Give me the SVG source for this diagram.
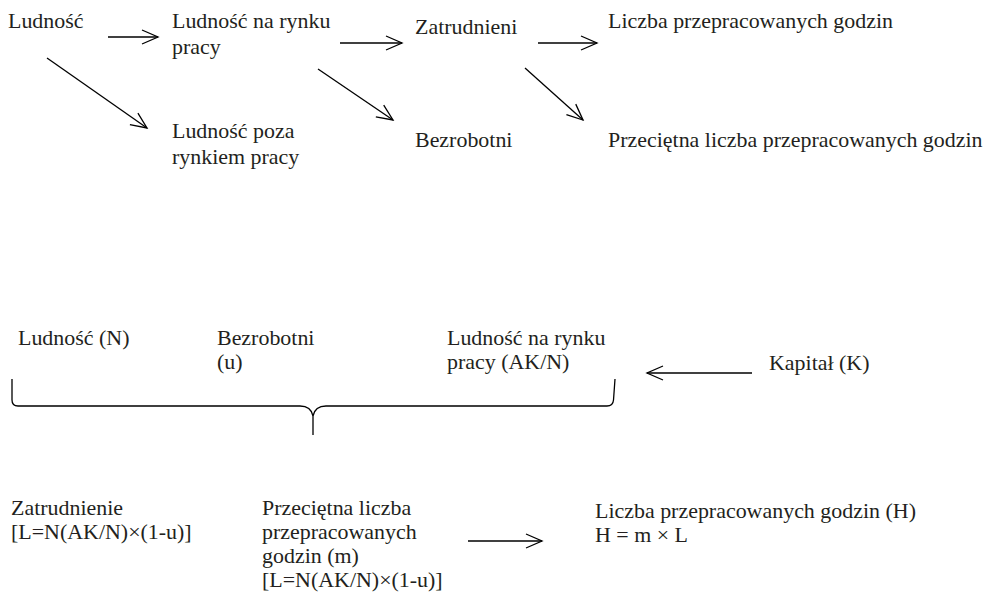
<svg xmlns="http://www.w3.org/2000/svg" width="990" height="598" viewBox="0 0 990 598">
<style>
text{font-family:"Liberation Serif","Times New Roman",serif;font-size:21px;fill:#231f20}
.c{stroke:#000;stroke-width:1.3;fill:none}
</style>
<defs>
<marker id="ah" markerUnits="userSpaceOnUse" markerWidth="20" markerHeight="18" refX="16" refY="8" orient="auto" overflow="visible">
<path d="M0,1 L16,8 L0,15" fill="none" stroke="#000" stroke-width="1.3"/>
</marker>
</defs>
<rect width="990" height="598" fill="#fff"/>
<g id="connectors">
<line class="c" x1="108" y1="37" x2="158" y2="37" marker-end="url(#ah)"/>
<line class="c" x1="47" y1="58" x2="147" y2="128" marker-end="url(#ah)"/>
<line class="c" x1="340" y1="43" x2="402" y2="43" marker-end="url(#ah)"/>
<line class="c" x1="318" y1="69" x2="393" y2="120" marker-end="url(#ah)"/>
<line class="c" x1="538" y1="43" x2="597" y2="43" marker-end="url(#ah)"/>
<line class="c" x1="525" y1="68" x2="583" y2="120" marker-end="url(#ah)"/>
<line class="c" x1="752" y1="373" x2="647" y2="373" marker-end="url(#ah)"/>
<line class="c" x1="468" y1="541" x2="542" y2="541" marker-end="url(#ah)"/>
<path id="brace" class="c" d="M12,379 L12,400 Q12,406 18,406 L300,406 Q311,406 313,416 L313,435 M313,416 Q315,406 326,406 L607,406 Q613,406 613.5,400 L615,379"/>
</g>
<g id="ludnosc" transform="translate(8 0) scale(1.045 1)"><text y="28">Ludność</text></g>
<g id="ludnosc-rynek" transform="translate(172 0) scale(1.045 1)"><text y="28">Ludność na rynku</text><text y="54">pracy</text></g>
<g id="ludnosc-poza" transform="translate(172 0) scale(1.045 1)"><text y="138">Ludność poza</text><text y="164">rynkiem pracy</text></g>
<g id="zatrudnieni" transform="translate(415 0) scale(1.045 1)"><text y="34">Zatrudnieni</text></g>
<g id="bezrobotni" transform="translate(415 0) scale(1.045 1)"><text y="147">Bezrobotni</text></g>
<g id="liczba-godzin" transform="translate(608 0) scale(1.045 1)"><text y="28">Liczba przepracowanych godzin</text></g>
<g id="przecietna" transform="translate(608 0) scale(1.045 1)"><text y="147">Przeciętna liczba przepracowanych godzin</text></g>
<g id="ludnosc-n" transform="translate(18 0) scale(1.045 1)"><text y="345">Ludność (N)</text></g>
<g id="bezrobotni-u" transform="translate(217 0) scale(1.045 1)"><text y="345">Bezrobotni</text><text y="369">(u)</text></g>
<g id="ludnosc-akn" transform="translate(447 0) scale(1.045 1)"><text y="345">Ludność na rynku</text><text y="369">pracy (AK/N)</text></g>
<g id="kapital" transform="translate(769 0) scale(1.045 1)"><text y="370">Kapitał (K)</text></g>
<g id="zatrudnienie" transform="translate(11 0) scale(1.045 1)"><text y="515">Zatrudnienie</text><text y="539">[L=N(AK/N)×(1-u)]</text></g>
<g id="przecietna-m" transform="translate(262 0) scale(1.045 1)"><text y="515">Przeciętna liczba</text><text y="539">przepracowanych</text><text y="563">godzin (m)</text><text y="587">[L=N(AK/N)×(1-u)]</text></g>
<g id="liczba-h" transform="translate(595 0) scale(1.045 1)"><text y="518">Liczba przepracowanych godzin (H)</text><text y="542">H = m × L</text></g>
</svg>
